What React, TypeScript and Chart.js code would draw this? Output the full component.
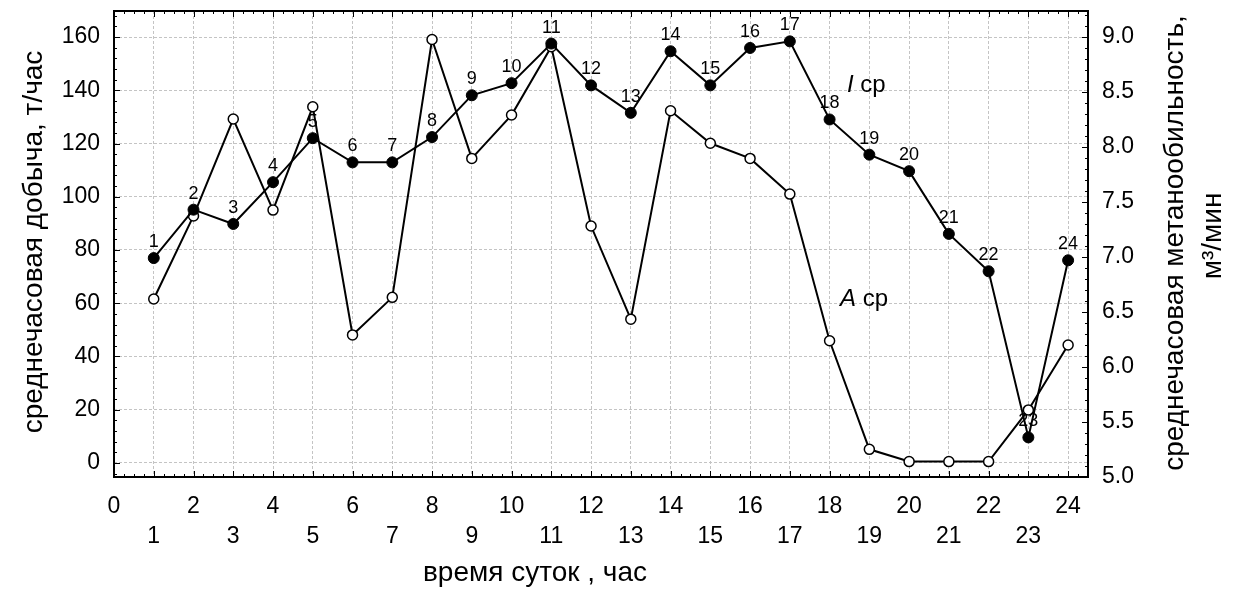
import React, { useEffect, useRef } from 'react';
import { Chart, registerables } from 'chart.js';

Chart.register(...registerables);

// Hours of the day (categories)
const hours = [1, 2, 3, 4, 5, 6, 7, 8, 9, 10, 11, 12, 13, 14, 15, 16, 17, 18, 19, 20, 21, 22, 23, 24];
// A ср – average hourly production, t/h (left axis, open circles)
const productionA = [61.6, 92.8, 129.2, 95.0, 133.8, 48.1, 62.2, 159.1, 114.4, 130.7, 156.4, 89.0, 54.0, 132.3, 120.1, 114.4, 101.0, 45.9, 5.1, 0.5, 0.5, 0.5, 19.9, 44.3];
// I ср – average hourly methane emission, m3/min (right axis, filled circles)
const methaneI = [6.99, 7.43, 7.30, 7.68, 8.08, 7.86, 7.86, 8.09, 8.47, 8.58, 8.94, 8.56, 8.31, 8.87, 8.56, 8.90, 8.96, 8.25, 7.93, 7.78, 7.21, 6.87, 5.36, 6.97];

const xTicks = [0, 1, 2, 3, 4, 5, 6, 7, 8, 9, 10, 11, 12, 13, 14, 15, 16, 17, 18, 19, 20, 21, 22, 23, 24];
const leftTicks = [0, 20, 40, 60, 80, 100, 120, 140, 160];
const rightTicks = [5.0, 5.5, 6.0, 6.5, 7.0, 7.5, 8.0, 8.5, 9.0];

const FONT = '"Liberation Sans", Arial, Helvetica, sans-serif';

const decorPlugin = {
  id: 'decor',
  afterDraw(chart: any) {
    const ctx: CanvasRenderingContext2D = chart.ctx;
    const { left, right, top, bottom } = chart.chartArea;
    const xs = chart.scales.x;
    const yl = chart.scales.y;
    const yr = chart.scales.y1;
    ctx.save();
    ctx.strokeStyle = '#000';
    ctx.lineWidth = 1;
    const line = (x1: number, y1: number, x2: number, y2: number) => {
      ctx.beginPath();
      ctx.moveTo(x1, y1);
      ctx.lineTo(x2, y2);
      ctx.stroke();
    };
    // x ticks (bottom and top), inward
    for (let i = 0; i <= 98; i++) {
      const v = i * 0.25;
      const px = Math.round(xs.getPixelForValue(v)) + 0.5;
      const len = i % 4 === 0 ? 6 : 3;
      line(px, bottom, px, bottom - len);
      line(px, top, px, top + len);
    }
    // left ticks
    for (let v = -4; v <= 168; v += 4) {
      const py = Math.round(yl.getPixelForValue(v)) + 0.5;
      const len = v % 20 === 0 ? 6 : 3;
      line(left, py, left + len, py);
    }
    // right ticks
    for (let i = 0; i <= 42; i++) {
      const v = 5 + i * 0.1;
      const py = Math.round(yr.getPixelForValue(v)) + 0.5;
      const len = i % 5 === 0 ? 6 : 3;
      line(right, py, right - len, py);
    }
    // frame
    ctx.lineWidth = 2;
    ctx.strokeRect(left, top, right - left, bottom - top);

    // point labels for I series
    ctx.fillStyle = '#000';
    ctx.font = `18px ${FONT}`;
    ctx.textAlign = 'center';
    ctx.textBaseline = 'middle';
    const meta = chart.getDatasetMeta(0);
    meta.data.forEach((pt: any, i: number) => {
      ctx.fillText(String(hours[i]), pt.x, pt.y - 16);
    });

    // series annotations
    ctx.textAlign = 'left';
    ctx.textBaseline = 'alphabetic';
    const drawAnno = (letter: string, x: number, y: number) => {
      ctx.font = `italic 24px ${FONT}`;
      ctx.fillText(letter, x, y);
      const w = ctx.measureText(letter + ' ').width;
      ctx.font = `24px ${FONT}`;
      ctx.fillText('ср', x + w, y);
    };
    drawAnno('I', 847, 92);
    drawAnno('A', 840, 306);

    // axis titles
    ctx.font = `28px ${FONT}`;
    ctx.textAlign = 'center';
    ctx.fillText('время суток , час', 535, 581);

    ctx.save();
    ctx.translate(42, 242);
    ctx.rotate(-Math.PI / 2);
    ctx.fillText('среднечасовая добыча, т/час', 0, 0);
    ctx.restore();

    ctx.save();
    ctx.translate(1183, 243);
    ctx.rotate(-Math.PI / 2);
    ctx.fillText('среднечасовая метанообильность,', 0, 0);
    ctx.restore();

    ctx.save();
    ctx.translate(1221, 236);
    ctx.rotate(-Math.PI / 2);
    ctx.fillText('м³/мин', 0, 0);
    ctx.restore();

    ctx.restore();
  },
};

export default function App() {
  const canvasRef = useRef<HTMLCanvasElement | null>(null);

  useEffect(() => {
    if (!canvasRef.current) return;
    const chart = new Chart(canvasRef.current, {
      type: 'line',
      data: {
        datasets: [
          {
            label: 'I ср',
            data: hours.map((h, i) => ({ x: h, y: methaneI[i] })),
            yAxisID: 'y1',
            borderColor: '#000',
            borderWidth: 2,
            backgroundColor: '#000',
            pointBackgroundColor: '#000',
            pointBorderColor: '#000',
            pointBorderWidth: 1,
            pointRadius: 5.5,
            tension: 0,
          },
          {
            label: 'A ср',
            data: hours.map((h, i) => ({ x: h, y: productionA[i] })),
            yAxisID: 'y',
            borderColor: '#000',
            borderWidth: 2,
            backgroundColor: '#fff',
            pointBackgroundColor: '#fff',
            pointBorderColor: '#000',
            pointBorderWidth: 1.5,
            pointRadius: 5,
            tension: 0,
          },
        ],
      },
      options: {
        animation: false,
        responsive: true,
        maintainAspectRatio: false,
        layout: { padding: { top: 11, left: 0, right: 0, bottom: 0 } },
        plugins: {
          legend: { display: false },
          tooltip: { enabled: false },
        },
        scales: {
          x: {
            type: 'linear',
            min: 0,
            max: 24.5,
            afterBuildTicks: (s: any) => {
              s.ticks = xTicks.map((v) => ({ value: v }));
            },
            afterFit: (s: any) => {
              s.height = 115;
              s.paddingLeft = 0;
              s.paddingRight = 0;
            },
            ticks: {
              autoSkip: false,
              maxRotation: 0,
              padding: 15,
              color: '#000',
              font: { family: FONT, size: 23, lineHeight: 30 / 23 },
              callback: (v: any) => (Number(v) % 2 === 0 ? String(v) : ['', String(v)]),
            },
            grid: { color: '#c4c4c4', drawTicks: false, lineWidth: 1 },
            border: { display: false, dash: [3, 2] },
          },
          y: {
            type: 'linear',
            position: 'left',
            min: -5.3,
            max: 169.8,
            afterBuildTicks: (s: any) => {
              s.ticks = leftTicks.map((v) => ({ value: v }));
            },
            afterFit: (s: any) => {
              s.width = 114;
              s.paddingTop = 0;
              s.paddingBottom = 0;
            },
            ticks: {
              padding: 14,
              color: '#000',
              font: { family: FONT, size: 23 },
              callback: (v: any) => String(v),
            },
            grid: { color: '#c4c4c4', drawTicks: false, lineWidth: 1 },
            border: { display: false, dash: [3, 2] },
          },
          y1: {
            type: 'linear',
            position: 'right',
            min: 5.0,
            max: 9.236,
            afterBuildTicks: (s: any) => {
              s.ticks = rightTicks.map((v) => ({ value: v }));
            },
            afterFit: (s: any) => {
              s.width = 147;
              s.paddingTop = 0;
              s.paddingBottom = 0;
            },
            ticks: {
              padding: 14,
              color: '#000',
              font: { family: FONT, size: 23 },
              callback: (v: any) => Number(v).toFixed(1),
            },
            grid: { display: false, drawTicks: false },
            border: { display: false },
          },
        },
      },
      plugins: [decorPlugin],
    });
    return () => chart.destroy();
  }, []);

  return (
    <div style={{ position: 'absolute', left: 0, top: 0, width: '1235px', height: '592px' }}>
      <canvas ref={canvasRef} />
    </div>
  );
}
